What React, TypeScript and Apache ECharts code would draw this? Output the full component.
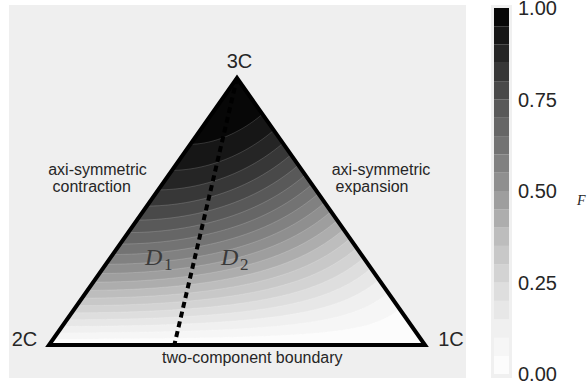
import React, { useEffect, useRef } from "react";
import * as echarts from "echarts";

// Contour levels of F; each filled band spans two consecutive levels.
const levels = [
  0, 0.05, 0.1, 0.15, 0.2, 0.25, 0.3, 0.35, 0.4, 0.45, 0.5,
  0.55, 0.6, 0.65, 0.7, 0.75, 0.8, 0.85, 0.9, 0.95, 1.0,
];
const colorbarTicks = [0, 0.25, 0.5, 0.75, 1.0];

// Barycentric map: x = C1 + C3/2, y = C3.
const triangle = [
  [0, 0],
  [1, 0],
  [0.5, 1],
];
const vertexLabels = ["2C", "1C", "3C"];
// Boundary between D1 and D2 regions (middle eigenvalue = 1/3).
const dividerLine = [
  [0.5, 1],
  [1 / 3, 0],
];
const leftEdgeLabel = ["axi-symmetric", "contraction"];
const rightEdgeLabel = ["axi-symmetric", "expansion"];
const bottomEdgeLabel = "two-component boundary";
const regionLabels = [
  { name: "D", sub: "1" },
  { name: "D", sub: "2" },
];

// Greys colormap anchors (position, grey level).
const greys: [number, number][] = [
  [0, 255], [0.125, 240], [0.25, 217], [0.375, 189], [0.5, 150],
  [0.625, 115], [0.75, 82], [0.875, 37], [1, 0],
];

function greyAt(t: number): string {
  for (let i = 0; i < greys.length - 1; i++) {
    const [a, va] = greys[i];
    const [b, vb] = greys[i + 1];
    if (t >= a && t <= b) {
      const v = Math.round(va + ((t - a) / (b - a)) * (vb - va));
      return `rgb(${v},${v},${v})`;
    }
  }
  return "rgb(0,0,0)";
}

const nBands = levels.length - 1;
const bandColors = levels.slice(0, nBands).map((lo, k) => {
  const mid = (lo + levels[k + 1]) / 2;
  return greyAt((mid - levels[0]) / (levels[nBands] - levels[0]));
});

// F = 27 * product of the normalised stress eigenvalues.
function fValue(r: number[]) {
  return 27 * r[0] * r[1] * r[2];
}
function toMap(r: number[]) {
  const c1 = r[0] - r[1];
  const c3 = 3 * r[2];
  return [c1 + 0.5 * c3, c3];
}

// Region where F >= level: convex, containing the 3C vertex.
function superLevelRing(level: number): number[][] {
  if (level <= 0) return triangle.map((p) => p.slice());
  const pts: number[][] = [[0.5, 1]];
  const N = 160;
  const c = [1 / 3, 1 / 3, 1 / 3];
  for (let i = 0; i <= N; i++) {
    const t = i / N;
    const b = [(1 + t) / 2, (1 - t) / 2, 0];
    const at = (s: number) => c.map((ci, j) => ci + s * (b[j] - ci));
    let lo = 0;
    let hi = 1;
    for (let k = 0; k < 40; k++) {
      const m = (lo + hi) / 2;
      if (fValue(at(m)) >= level) lo = m;
      else hi = m;
    }
    pts.push(toMap(at((lo + hi) / 2)));
  }
  return pts;
}

const bandRings = levels.slice(0, nBands).map((lo) => superLevelRing(lo));

// Layout (pixels)
const PLOT = { left: 9, top: 5, width: 457, height: 373 };
const V2C = { x: 49, y: 345 };
const V1C_X = 425;
const V3C_Y = 78;
const pxPerX = V1C_X - V2C.x;
const pxPerY = V2C.y - V3C_Y;
const X_MIN = (PLOT.left - V2C.x) / pxPerX;
const X_MAX = X_MIN + PLOT.width / pxPerX;
const Y_MAX = (V2C.y - PLOT.top) / pxPerY;
const Y_MIN = Y_MAX - PLOT.height / pxPerY;

const SANS = '"Liberation Sans", Arial, sans-serif';
const SERIF = '"Liberation Serif", "DejaVu Serif", serif';
const TEXT = "#262626";

function label(text: string, x: number, y: number, size: number, align = "center") {
  return {
    type: "text",
    x,
    y,
    z: 100,
    style: {
      text,
      fill: TEXT,
      font: `${size}px ${SANS}`,
      textAlign: align,
      textVerticalAlign: "middle",
      align,
      verticalAlign: "middle",
    },
  };
}

function mathLabel(name: string, sub: string, x: number, y: number) {
  return [
    {
      type: "text",
      x,
      y,
      z: 100,
      style: {
        text: name,
        fill: "#3a3a3a",
        font: `italic 24px ${SERIF}`,
        textAlign: "left",
        textVerticalAlign: "middle",
        align: "left",
        verticalAlign: "middle",
      },
    },
    {
      type: "text",
      x: x + 19,
      y: y + 7,
      z: 100,
      style: {
        text: sub,
        fill: "#3a3a3a",
        font: `17px ${SERIF}`,
        textAlign: "left",
        textVerticalAlign: "middle",
        align: "left",
        verticalAlign: "middle",
      },
    },
  ];
}

function buildOption() {
  return {
    animation: false,
    backgroundColor: "#ffffff",
    grid: [
      {
        left: PLOT.left,
        top: PLOT.top,
        width: PLOT.width,
        height: PLOT.height,
        show: true,
        backgroundColor: "#efefef",
        borderWidth: 0,
        containLabel: false,
        outerBoundsMode: "none",
      },
      {
        left: 494,
        top: 8,
        width: 15,
        height: 366,
        show: false,
        containLabel: false,
        outerBoundsMode: "none",
      },
    ],
    xAxis: [
      { gridIndex: 0, type: "value", min: X_MIN, max: X_MAX, show: false },
      { gridIndex: 1, type: "value", min: 0, max: 1, show: false },
    ],
    yAxis: [
      { gridIndex: 0, type: "value", min: Y_MIN, max: Y_MAX, show: false },
      {
        gridIndex: 1,
        type: "value",
        min: colorbarTicks[0],
        max: colorbarTicks[colorbarTicks.length - 1],
        interval: 0.25,
        position: "right",
        axisLine: { show: false },
        axisTick: { show: false },
        splitLine: { show: false },
        axisLabel: {
          margin: 9,
          fontSize: 20,
          fontFamily: SANS,
          color: TEXT,
          showMinLabel: true,
          showMaxLabel: true,
          verticalAlign: "middle",
          verticalAlignMinLabel: "middle",
          verticalAlignMaxLabel: "middle",
          formatter: (v: number) => v.toFixed(2),
        },
      },
    ],
    series: [
      {
        name: "F bands",
        type: "custom",
        xAxisIndex: 0,
        yAxisIndex: 0,
        data: levels.slice(0, nBands).map((lo) => [0.5, 0.5, lo]),
        renderItem: (params: any, api: any) => {
          const k = params.dataIndex;
          const points = bandRings[k].map((p) => api.coord(p));
          return {
            type: "polygon",
            shape: { points },
            style: {
              fill: bandColors[k],
              stroke: "rgba(255,255,255,0.28)",
              lineWidth: 0.6,
            },
          };
        },
        z: 2,
      },
      {
        name: "divider",
        type: "line",
        xAxisIndex: 0,
        yAxisIndex: 0,
        data: dividerLine,
        symbol: "none",
        lineStyle: { color: "#000", width: 4, type: [6, 4] },
        z: 3,
      },
      {
        name: "outline",
        type: "custom",
        xAxisIndex: 0,
        yAxisIndex: 0,
        data: [[0.5, 0.5]],
        renderItem: (_params: any, api: any) => ({
          type: "polygon",
          shape: { points: triangle.map((p) => api.coord(p)) },
          style: { fill: "none", stroke: "#000", lineWidth: 4, lineJoin: "miter" },
        }),
        z: 4,
      },
      {
        name: "colorbar",
        type: "custom",
        xAxisIndex: 1,
        yAxisIndex: 1,
        data: levels.slice(0, nBands).map((lo) => [0.5, lo]),
        renderItem: (params: any, api: any) => {
          const k = params.dataIndex;
          const p0 = api.coord([0, levels[k]]);
          const p1 = api.coord([1, levels[k + 1]]);
          return {
            type: "rect",
            shape: { x: p0[0], y: p1[1], width: p1[0] - p0[0], height: p0[1] - p1[1] },
            style: { fill: bandColors[k] },
          };
        },
        z: 2,
      },
    ],
    graphic: [
      {
        type: "rect",
        z: 0,
        shape: { x: 491, y: 5, width: 21, height: 373 },
        style: { fill: "#f0f0f0" },
      },
      label(vertexLabels[2], 239.5, 61, 20),
      label(vertexLabels[0], 24.5, 339, 20),
      label(vertexLabels[1], 451, 339, 20),
      label(leftEdgeLabel[0], 97.5, 169, 16),
      label(leftEdgeLabel[1], 91.7, 186, 16),
      label(rightEdgeLabel[0], 381, 169, 16),
      label(rightEdgeLabel[1], 372, 186, 16),
      label(bottomEdgeLabel, 162, 357, 16, "left"),
      ...mathLabel(regionLabels[0].name, regionLabels[0].sub, 145, 257),
      ...mathLabel(regionLabels[1].name, regionLabels[1].sub, 221, 257),
      {
        type: "text",
        x: 577,
        y: 200,
        z: 100,
        style: {
          text: "F",
          fill: TEXT,
          font: `italic 14px ${SERIF}`,
          textAlign: "left",
          textVerticalAlign: "middle",
          align: "left",
          verticalAlign: "middle",
        },
      },
    ],
  };
}

export default function App() {
  const ref = useRef<HTMLDivElement>(null);
  useEffect(() => {
    if (!ref.current) return;
    const chart = echarts.init(ref.current, null, { renderer: "svg" });
    chart.setOption(buildOption() as any);
    return () => chart.dispose();
  }, []);
  return (
    <div
      ref={ref}
      style={{ position: "fixed", left: 0, top: 0, width: 587, height: 390 }}
    />
  );
}
